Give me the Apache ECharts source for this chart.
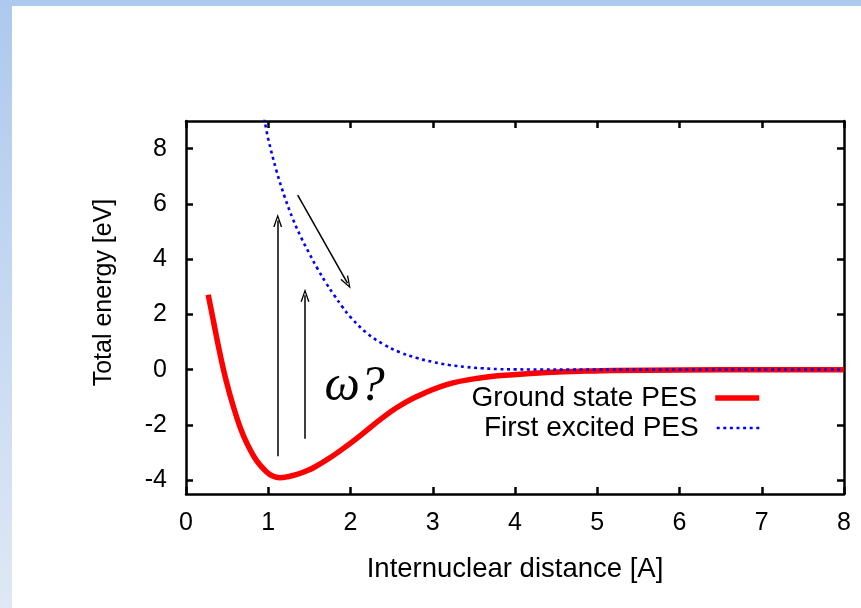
<!DOCTYPE html>
<html>
<head>
<meta charset="utf-8">
<script src="https://cdn.jsdelivr.net/npm/echarts@6/dist/echarts.min.js"></script>
<style>
  html, body { margin: 0; padding: 0; background: #fff; }
  #pesChart { width: 861px; height: 608px; }
</style>
</head>
<body>
<div id="pesChart"></div>
<script>
    // ground state PES
    const groundX = [0.27, 0.33, 0.41, 0.49, 0.58, 0.66, 0.74, 0.86, 0.98, 1.06, 1.14, 1.25, 1.35, 1.45, 1.55, 1.75, 1.95, 2.16, 2.36, 2.56, 2.8, 3.17, 3.57, 3.98, 4.39, 4.79, 5.2, 6, 7, 8];
    const groundY = [2.71, 1.81, 0.62, -0.42, -1.38, -2.1, -2.66, -3.3, -3.7, -3.86, -3.91, -3.865, -3.79, -3.68, -3.55, -3.19, -2.77, -2.29, -1.81, -1.38, -0.98, -0.54, -0.30, -0.18, -0.10, -0.06, -0.03, -0.01, 0, 0];
    // first excited PES
    const excitedX = [0.95, 1.0, 1.1, 1.2, 1.3, 1.4, 1.5, 1.6, 1.7, 1.8, 1.9, 2.0, 2.2, 2.4, 2.6, 2.8, 3.0, 3.2, 3.4, 3.6, 3.8, 4.0, 5, 6, 7, 8];
    const excitedY = [9.1, 8.35, 7.2, 6.25, 5.45, 4.78, 4.2, 3.65, 3.15, 2.7, 2.28, 1.9, 1.32, 0.92, 0.63, 0.43, 0.28, 0.17, 0.1, 0.05, 0.02, 0.01, 0, 0, 0, 0];

    const seriesNames = ['Ground state PES', 'First excited PES'];
    const yTicks = [-4, -2, 0, 2, 4, 6, 8];

    // annotation arrows: [x1, y1, x2, y2], end = centre of the arrow head
    const arrows = [
        [1.115, -3.13, 1.115, 5.4],
        [1.447, -2.5, 1.447, 2.69],
        [1.358, 6.32, 1.963, 3.13]
    ];
    const omegaLabel = 'ω?';
    const omegaPos = [2.05, -0.62];

    const font = '"Liberation Sans", Arial, sans-serif';
    const frame = {color: '#000', width: 2.5};

    function pairs(xs, ys) {
        return xs.map((x, i) => [x, ys[i]]);
    }

    function legendFor(name, top, width) {
        return {
            data: [name],
            orient: 'vertical',
            align: 'right',
            right: 99,
            top: top,
            padding: 0,
            itemWidth: 44,
            itemHeight: 8,
            selectedMode: false,
            itemStyle: {opacity: 0},
            lineStyle: {width: width},
            textStyle: {fontFamily: font, fontSize: 28, color: '#000', padding: [0, 13, 0, 0]}
        };
    }

    const chart = echarts.init(document.getElementById('pesChart'));
    const option = {
        animation: false,
        backgroundColor: '#fff',
        graphic: [
            {type: 'rect', shape: {x: 0, y: 0, width: 861, height: 6}, style: {fill: '#adc9ee'}, silent: true},
            {
                type: 'rect', shape: {x: 0, y: 0, width: 12, height: 608}, silent: true,
                style: {fill: new echarts.graphic.LinearGradient(0, 0, 0, 1, [
                    {offset: 0, color: '#adc9ee'},
                    {offset: 1, color: '#dfe8f4'}
                ])}
            }
        ],
        grid: {left: 186, right: 17, top: 121, bottom: 114, containLabel: false},
        legend: [legendFor(seriesNames[0], 384, 5.5), legendFor(seriesNames[1], 414, 2.6)],
        xAxis: [{
            type: 'value', min: 0, max: 8, interval: 1,
            axisLine: {onZero: false, lineStyle: frame},
            axisTick: {inside: true, length: 7, lineStyle: frame},
            axisLabel: {margin: 17, fontFamily: font, fontSize: 25, color: '#000'},
            splitLine: {show: false},
            name: 'Internuclear distance [A]',
            nameLocation: 'middle',
            nameGap: 61,
            nameTextStyle: {fontFamily: font, fontSize: 27.5, color: '#000'}
        }, {
            type: 'value', min: 0, max: 8, interval: 1, position: 'top',
            axisLine: {onZero: false, lineStyle: frame},
            axisTick: {inside: true, length: 7, lineStyle: frame},
            axisLabel: {show: false},
            splitLine: {show: false}
        }],
        yAxis: [{
            type: 'value', min: -4.5, max: 9,
            axisLine: {show: true, onZero: false, lineStyle: frame},
            axisTick: {show: true, inside: true, length: 7, lineStyle: frame, customValues: yTicks},
            axisLabel: {margin: 19, fontFamily: font, fontSize: 25, color: '#000', customValues: yTicks},
            splitLine: {show: false},
            name: 'Total energy [eV]',
            nameLocation: 'middle',
            nameGap: 69,
            nameRotate: 90,
            nameTextStyle: {fontFamily: font, fontSize: 25, color: '#000', padding: [0, 0, 0, 30]}
        }, {
            type: 'value', min: -4.5, max: 9, position: 'right',
            axisLine: {show: true, onZero: false, lineStyle: frame},
            axisTick: {show: true, inside: true, length: 7, lineStyle: frame, customValues: yTicks},
            axisLabel: {show: false},
            splitLine: {show: false}
        }],
        series: [{
            name: seriesNames[0],
            type: 'line',
            data: pairs(groundX, groundY),
            smooth: 0.4,
            showSymbol: false,
            symbol: 'none',
            z: 3,
            lineStyle: {color: '#ff0000', width: 5.5},
            itemStyle: {color: '#ff0000'},
            markLine: {
                silent: true,
                animation: false,
                symbol: ['none', 'path://M0,14 L5,0 L10,14 L8.4,14 L5,4 L1.6,14 Z'],
                symbolSize: [9, 13],
                lineStyle: {color: '#000', width: 1.5, type: 'solid'},
                itemStyle: {color: '#000'},
                label: {show: false},
                emphasis: {disabled: true},
                data: arrows.map(a => [{coord: [a[0], a[1]]}, {coord: [a[2], a[3]]}])
            },
            markPoint: {
                silent: true,
                animation: false,
                symbol: 'circle',
                symbolSize: 0,
                label: {
                    show: true,
                    position: 'inside',
                    formatter: omegaLabel,
                    fontFamily: '"Liberation Serif", "DejaVu Serif", serif',
                    fontStyle: 'italic',
                    fontSize: 50,
                    color: '#000'
                },
                data: [{coord: omegaPos}]
            }
        }, {
            name: seriesNames[1],
            type: 'line',
            data: pairs(excitedX, excitedY),
            smooth: 0.4,
            showSymbol: false,
            symbol: 'none',
            z: 4,
            lineStyle: {color: '#0000ff', width: 2.6, type: [3, 3.6]},
            itemStyle: {color: '#0000ff'}
        }]
    };
    chart.setOption(option);
</script>
</body>
</html>
